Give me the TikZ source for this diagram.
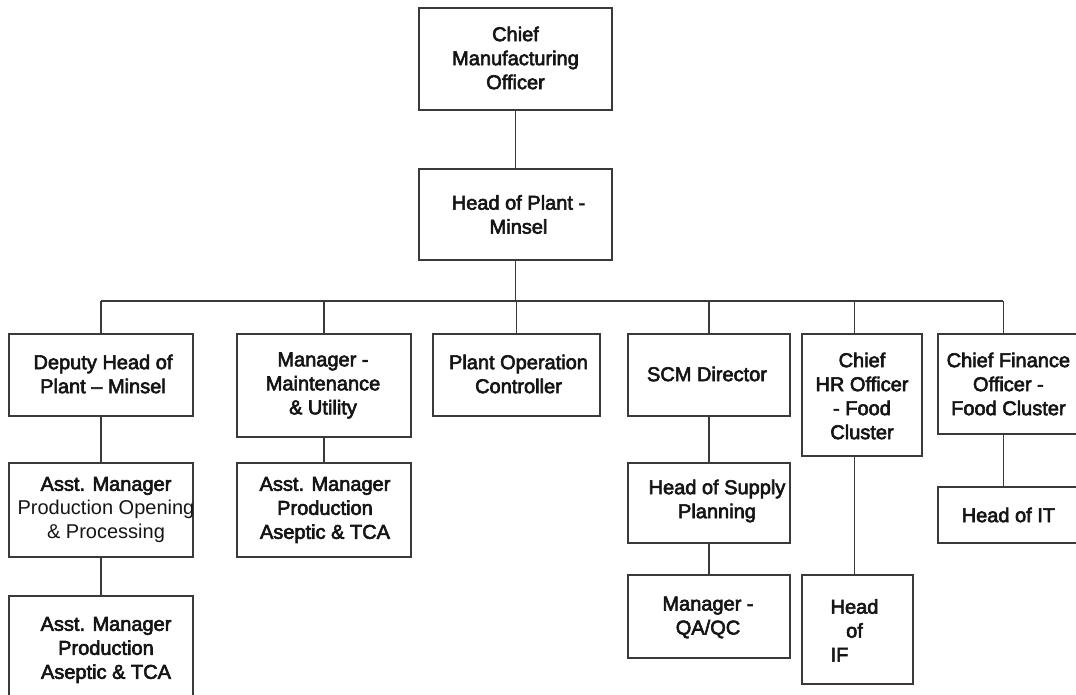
\documentclass[tikz,border=0pt]{standalone}
\usepackage{fontspec}
\setmainfont{Liberation Sans}[Ligatures=TeX]
\newfontfamily\medfont{Liberation Sans}[Ligatures=TeX,FakeBold=3]
\usetikzlibrary{fit,calc}
\definecolor{linegray}{HTML}{3A3A3A}
\definecolor{txtblack}{HTML}{151515}
\begin{document}
\begin{tikzpicture}[x=1pt,y=-1pt,
  box/.style={draw=linegray, line width=1.2pt, inner sep=0pt, rectangle},
  lbl/.style={align=center, font=\medfont\fontsize{20}{24}\selectfont, text=txtblack, inner sep=0pt},
  conn/.style={draw=linegray, line width=1.2pt}]
\useasboundingbox (0,0) rectangle (1076,695);
\clip (0,0) rectangle (1076,695);

% boxes
\node[box, fit={(419,8) (612,110)}] (cmo) {};
\node[box, fit={(419,169) (612,260)}] (hop) {};
\node[box, fit={(9,334) (193,416)}] (dep) {};
\node[box, fit={(237,334) (411,437)}] (mnt) {};
\node[box, fit={(433,334) (600,416)}] (poc) {};
\node[box, fit={(628,334) (790,416)}] (scm) {};
\node[box, fit={(802,334) (922,456)}] (hr) {};
\node[box, fit={(938,334) (1090,434)}] (cfo) {};
\node[box, fit={(9,463) (193,557)}] (amo) {};
\node[box, fit={(237,463) (411,557)}] (ama) {};
\node[box, fit={(628,463) (790,543)}] (hsp) {};
\node[box, fit={(938,487) (1090,543)}] (hit) {};
\node[box, fit={(9,596) (193,712)}] (ala) {};
\node[box, fit={(628,575) (790,658)}] (qa) {};
\node[box, fit={(802,575) (913,684)}] (hif) {};

% texts
\node[lbl] (t-cmo) at ($(cmo.center)+(0,-1)$) {Chief\\Manufacturing\\Officer};
\node[lbl] (t-hop) at ($(hop.center)+(3,0)$) {Head of Plant -\\Minsel};
\node[lbl] (t-dep) at ($(dep.center)+(2,-1)$) {Deputy Head of\\Plant – Minsel};
\node[lbl] (t-mnt) at ($(mnt.center)+(-1,0)$) {Manager -\\Maintenance\\\& Utility};
\node[lbl] (t-poc) at ($(poc.center)+(2,-1)$) {Plant Operation\\Controller};
\node[lbl] (t-scm) at ($(scm.center)+(-2,-1)$) {SCM Director};
\node[lbl] (t-hr) at ($(hr.center)+(0,1)$) {Chief\\HR Officer\\- Food\\Cluster};
\node[lbl] (t-cfo) at ($(cfo.west)+(71,0)$) {Chief Finance\\Officer -\\Food Cluster};
\node[lbl] (t-amo) at ($(amo.center)+(5,0)$) {Asst. Manager\\{\rmfamily Production Opening}\\{\rmfamily \& Processing}};
\node[lbl] (t-ama) at ($(ama.center)+(1,0)$) {Asst. Manager\\Production\\Aseptic \& TCA};
\node[lbl] (t-hsp) at ($(hsp.center)+(8,-2)$) {Head of Supply\\Planning};
\node[lbl] (t-hit) at ($(hit.west)+(71,0)$) {Head of IT};
\node[lbl] (t-ala) at ($(ala.center)+(5,-4)$) {Asst. Manager\\Production\\Aseptic \& TCA};
\node[lbl] (t-qa) at ($(qa.center)+(-1,1)$) {Manager -\\QA/QC};
\node[lbl] (t-hif) at ($(hif.center)+(-3,1)$) {Head\\of\\\rlap{IF}\phantom{Head}};

% connectors
\coordinate (bus) at (0,301);
\coordinate (hrTop) at ($(hr.north west)+(53,0)$);
\coordinate (cfoTop) at ($(cfo.north west)+(66,0)$);
\draw[conn] (cmo) -- (hop);
\draw[conn] (hop.south) -- (hop.south |- bus);
\draw[conn] (dep.north |- bus) -- (cfoTop |- bus);
\draw[conn] (dep.north) -- (dep.north |- bus);
\draw[conn] (mnt.north) -- (mnt.north |- bus);
\draw[conn] (poc.north) -- (poc.north |- bus);
\draw[conn] (scm.north) -- (scm.north |- bus);
\draw[conn] (hrTop) -- (hrTop |- bus);
\draw[conn] (cfoTop) -- (cfoTop |- bus);
\draw[conn] (dep) -- (amo);
\draw[conn] (amo) -- (ala);
\draw[conn] (mnt) -- (ama);
\draw[conn] (scm) -- (hsp);
\draw[conn] (hsp) -- (qa);
\draw[conn] (hrTop |- hr.south) -- (hrTop |- hif.north);
\draw[conn] (cfoTop |- cfo.south) -- (cfoTop |- hit.north);
\end{tikzpicture}
\end{document}
